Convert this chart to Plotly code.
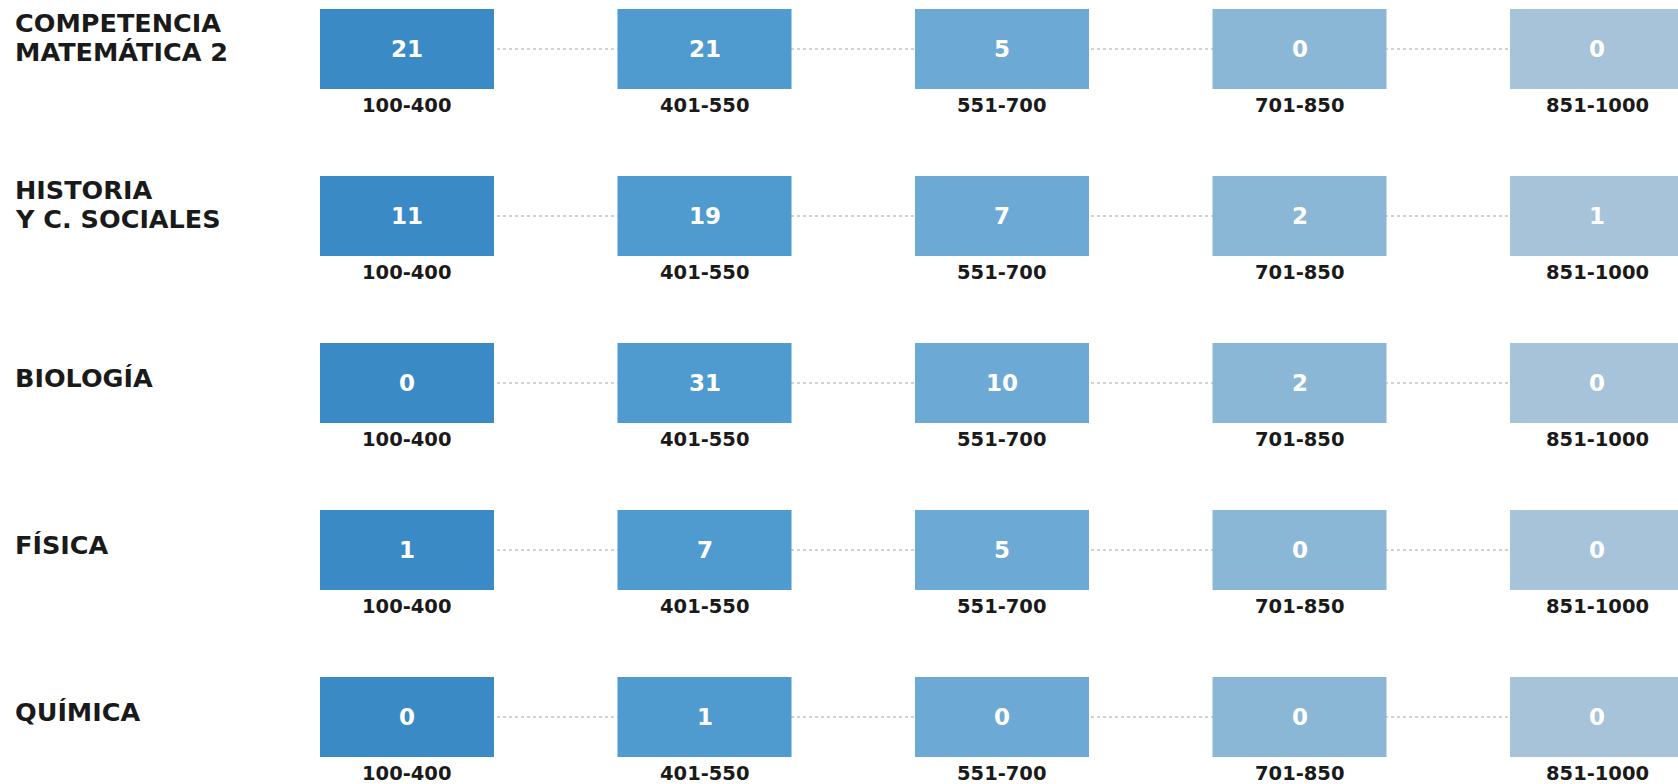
import plotly.graph_objects as go

subjects = ["COMPETENCIA<br>MATEMÁTICA 2", "HISTORIA<br>Y C. SOCIALES", "BIOLOGÍA", "FÍSICA", "QUÍMICA"]
score_ranges = ["100-400", "401-550", "551-700", "701-850", "851-1000"]
values = [
    [21, 21, 5, 0, 0],
    [11, 19, 7, 2, 1],
    [0, 31, 10, 2, 0],
    [1, 7, 5, 0, 0],
    [0, 1, 0, 0, 0],
]
col_colors = ["#3a8bc5", "#4f9bcf", "#6ca9d4", "#8bb7d6", "#a6c3da"]

W, H = 1678, 784
# layout geometry (pixels)
x0_px, dx_px = 407, 297.5
y0_px, dy_px = 49, 167
box_w_px, box_h_px = 174, 80

xr = [(0 - x0_px) / dx_px, (W - x0_px) / dx_px]
yr = [(H - y0_px) / dy_px, (0 - y0_px) / dy_px]
hw = box_w_px / 2 / dx_px
hh = box_h_px / 2 / dy_px

fig = go.Figure()
shapes = []
annotations = []
FONT = "DejaVu Sans"

for j, subj in enumerate(subjects):
    # connector line
    shapes.append(dict(type="line", xref="x", yref="y", x0=0, x1=len(score_ranges) - 1,
                       y0=j, y1=j, layer="below",
                       line=dict(color="#d2d2d2", width=2, dash="dot")))
    lines = subj.split("<br>")
    if len(lines) == 1:
        shifts = [5]
    else:
        shifts = [26, -3]
    for ln, sh in zip(lines, shifts):
        annotations.append(dict(xref="paper", yref="y", x=14 / W, y=j, xanchor="left", yanchor="middle",
                                yshift=sh, text=ln, showarrow=False, align="left", borderpad=0,
                                font=dict(family=FONT, size=25.5, color="#1a1a1a", weight=700)))
    for i, rng in enumerate(score_ranges):
        shapes.append(dict(type="rect", xref="x", yref="y", x0=i - hw, x1=i + hw,
                           y0=j - hh, y1=j + hh, fillcolor=col_colors[i],
                           line=dict(width=0), layer="above"))
        annotations.append(dict(xref="x", yref="y", x=i, y=j, text=str(values[j][i]),
                                showarrow=False, xanchor="center", yanchor="middle",
                                font=dict(family=FONT, size=23, color="white", weight=700)))
        annotations.append(dict(xref="x", yref="y", x=i, y=j, yshift=-56, text=rng,
                                showarrow=False, xanchor="center", yanchor="middle", borderpad=0,
                                font=dict(family=FONT, size=19.5, color="#1a1a1a", weight=700)))

fig.update_layout(
    width=W, height=H,
    margin=dict(l=0, r=0, t=0, b=0),
    paper_bgcolor="white", plot_bgcolor="white",
    xaxis=dict(range=xr, visible=False, fixedrange=True),
    yaxis=dict(range=yr, visible=False, fixedrange=True),
    shapes=shapes, annotations=annotations, showlegend=False,
)
fig.write_html("out.html", config={"displayModeBar": False},
               post_script="document.body.style.margin='0';document.body.style.overflow='hidden';")
